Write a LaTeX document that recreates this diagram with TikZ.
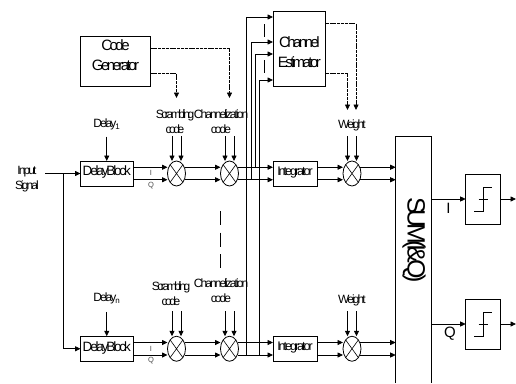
\documentclass[tikz,border=0pt]{standalone}
\usepackage{fontspec}
\setmainfont{Liberation Sans}
\newfontfamily\tightfont[LetterSpace=-16]{Liberation Sans}
\newfontfamily\boxfont[LetterSpace=-17]{Liberation Sans}
\newfontfamily\scrfont[LetterSpace=-20]{Liberation Sans}
\newfontfamily\sumfont[LetterSpace=-17]{Liberation Sans}
\newcommand{\lowstrut}[1]{\rule[-#1]{0pt}{#1}}
\usetikzlibrary{shapes,arrows.meta,positioning}

\begin{document}
\begin{tikzpicture}[
    x=1pt, y=-1pt,
    line width=0.8pt,
    every node/.style={inner sep=0pt, outer sep=0pt, align=center},
    block/.style={draw, rectangle, font=\boxfont\fontsize{15}{20}\selectfont},
    delaybox/.style={block, minimum width=52.5pt, minimum height=25pt, font=\tightfont\fontsize{13.5}{16}\selectfont},
    intbox/.style={block, minimum width=44pt, minimum height=25pt, font=\tightfont\fontsize{12.5}{14}\selectfont},
    mixer/.style={draw, ellipse, minimum width=18pt, minimum height=25pt,
        path picture={\draw[line width=0.6pt] (path picture bounding box.south west) -- (path picture bounding box.north east)
            (path picture bounding box.north west) -- (path picture bounding box.south east);}},
    slicer/.style={draw, rectangle, minimum width=35pt, minimum height=50pt,
        path picture={\draw[line width=0.7pt] ([shift={(-9pt,-12pt)}]path picture bounding box.center) -- ++(9pt,0pt) -- ++(0pt,24pt) -- ++(9pt,0pt)
            ([xshift=-4.5pt]path picture bounding box.center) -- ++(9pt,0pt);}},
    lab/.style={font=\tightfont\fontsize{12}{15}\selectfont},
    scrlab/.style={font=\scrfont\fontsize{12}{15}\selectfont},
    tiny/.style={font=\fontsize{7.5}{9}\selectfont, text=black!70},
    big/.style={font=\fontsize{15}{15}\selectfont},
    arrow/.style={-{Triangle[length=5.5pt,width=5pt]}},
    ctrl/.style={arrow, dash pattern=on 3pt off 0.8pt},
    gap/.style={line width=0.7pt}
]
\useasboundingbox (0,0) rectangle (516,383);

% first finger
\node[delaybox] (delay1) at (106.75,173.5) {DelayBlock\lowstrut{5pt}};
\node[mixer, right=34.5pt of delay1] (scr1) {};
\node[mixer, right=35pt of scr1] (chan1) {};
\node[intbox, right=34.5pt of chan1] (int1) {Integrator\lowstrut{5pt}};
\node[mixer, right=26pt of int1] (wgt1) {};

% last finger
\node[delaybox, below=150.25pt of delay1] (delay2) {DelayBlock\lowstrut{5pt}};
\node[mixer, right=34.5pt of delay2] (scr2) {};
\node[mixer, right=35pt of scr2] (chan2) {};
\node[intbox, right=34.5pt of chan2] (int2) {Integrator\lowstrut{5pt}};
\node[mixer, right=26pt of int2] (wgt2) {};

\node[block, above=75pt of delay1, xshift=8.75pt, minimum width=70pt, minimum height=50pt] (codegen) {Code\\Generator\lowstrut{11pt}};
\node[block, above=75pt of int1, xshift=4.35pt, minimum width=52.7pt, minimum height=75pt] (est) {\rule{0pt}{19pt}Channel\\Estimator};

\node[minimum width=35.3pt, minimum height=247pt] (sum) at (413.35,259.5) {};
\node[rotate=-90, font=\sumfont\fontsize{25}{25}\selectfont] (sumtext) at (414,240) {SUM(I\&Q)};
\node[slicer] (dec1) at (483.2,199) {};
\node[slicer] (dec2) at (483.2,324) {};

% labels
\node[lab] (input) at (27,179.5) {Input\\Signal};
\node[lab, above=31pt of delay1] (dly1) {Delay\kern-1pt\textsubscript{1}};
\node[lab, above=32pt of delay2] (dly2) {Delay\kern-1pt\textsubscript{n}};
\node[scrlab] (scrl1) at (175,121.5) {Scrambling\\code};
\node[lab] (chanl1) at (221,121.5) {Channelization\\code};
\node[lab] (wgtl1) at (352,125.5) {Weight};
\node[scrlab] (scrl2) at (171,293.5) {Scrambling\\code};
\node[lab] (chanl2) at (221,290.5) {Channelization\\code};
\node[lab] (wgtl2) at (352,300.5) {Weight};
\node[tiny] (i1) at (151,173) {I};
\node[tiny] (q1) at (151,186) {Q};
\node[tiny] (i2) at (151,349) {I};
\node[tiny] (q2) at (151,361) {Q};
\node[big] (ilab) at (448.5,208) {I};
\node[big] (qlab) at (450,334) {Q};

% helper points
\coordinate[left=35.5pt of delay1] (infeed);
\coordinate[left=17.5pt of delay1] (split);
\coordinate[above=24.5pt of delay1] (dtop1);
\coordinate[above=24.5pt of delay2] (dtop2);
\coordinate[above=25pt of scr1] (stop1);
\coordinate[above=25pt of chan1] (ctop1);
\coordinate[above=25pt of wgt1] (wtop1);
\coordinate[above=25pt of scr2] (stop2);
\coordinate[above=25pt of chan2] (ctop2);
\coordinate[above=25pt of wgt2] (wtop2);
\coordinate (stail) at (176.5,98);
\coordinate (ctail) at (229.5,98);
\coordinate (wtaila) at (347.5,110);
\coordinate (wtailb) at (356,110);
\coordinate (outa) at (516,199);
\coordinate (outb) at (516,324);
\coordinate (busa) at (264,24);
\coordinate (busb) at (264,73);
\coordinate (fingera) at (220.7,211);
\coordinate (fingerb) at (220.7,268);

% input
\draw[arrow] (infeed) -- (delay1.west);
\draw[arrow] (split) |- (delay2.west);
\draw[arrow] (dtop1) -- (delay1.north);
\draw[arrow] (dtop2) -- (delay2.north);

% I and Q, first finger
\draw[arrow] ([yshift=6.25pt]delay1.east) -- ([yshift=6.25pt]scr1.west);
\draw[arrow] ([yshift=-6.25pt]delay1.east) -- ([yshift=-6.25pt]scr1.west);
\draw[arrow] ([xshift=-1pt,yshift=6.25pt]scr1.east) -- ([yshift=6.25pt]chan1.west);
\draw[arrow] ([xshift=-1pt,yshift=-6.25pt]scr1.east) -- ([yshift=-6.25pt]chan1.west);
\draw[arrow] ([xshift=-1pt,yshift=6.25pt]chan1.east) -- ([yshift=6.25pt]int1.west);
\draw[arrow] ([xshift=-1pt,yshift=-6.25pt]chan1.east) -- ([yshift=-6.25pt]int1.west);
\draw[arrow] ([yshift=6.25pt]int1.east) -- ([yshift=6.25pt]wgt1.west);
\draw[arrow] ([yshift=-6.25pt]int1.east) -- ([yshift=-6.25pt]wgt1.west);
\draw[arrow] ([xshift=-1pt,yshift=6.25pt]wgt1.east) -- ([yshift=92.25pt]sum.west);
\draw[arrow] ([xshift=-1pt,yshift=-6.25pt]wgt1.east) -- ([yshift=79.75pt]sum.west);

% I and Q, last finger
\draw[arrow] ([yshift=6.25pt]delay2.east) -- ([yshift=6.25pt]scr2.west);
\draw[arrow] ([yshift=-6.25pt]delay2.east) -- ([yshift=-6.25pt]scr2.west);
\draw[arrow] ([xshift=-1pt,yshift=6.25pt]scr2.east) -- ([yshift=6.25pt]chan2.west);
\draw[arrow] ([xshift=-1pt,yshift=-6.25pt]scr2.east) -- ([yshift=-6.25pt]chan2.west);
\draw[arrow] ([xshift=-1pt,yshift=6.25pt]chan2.east) -- ([yshift=6.25pt]int2.west);
\draw[arrow] ([xshift=-1pt,yshift=-6.25pt]chan2.east) -- ([yshift=-6.25pt]int2.west);
\draw[arrow] ([yshift=6.25pt]int2.east) -- ([yshift=6.25pt]wgt2.west);
\draw[arrow] ([yshift=-6.25pt]int2.east) -- ([yshift=-6.25pt]wgt2.west);
\draw[arrow] ([xshift=-1pt,yshift=6.25pt]wgt2.east) -- ([yshift=-83pt]sum.west);
\draw[arrow] ([xshift=-1pt,yshift=-6.25pt]wgt2.east) -- ([yshift=-95.5pt]sum.west);

% code inputs
\draw[arrow] ([xshift=-4.5pt]stop1) -- ([xshift=-4.5pt]scr1.north);
\draw[arrow] ([xshift=4.5pt]stop1) -- ([xshift=4.5pt]scr1.north);
\draw[arrow] ([xshift=-4.5pt]ctop1) -- ([xshift=-4.5pt]chan1.north);
\draw[arrow] ([xshift=4.5pt]ctop1) -- ([xshift=4.5pt]chan1.north);
\draw[arrow] ([xshift=-4.5pt]wtop1) -- ([xshift=-4.5pt]wgt1.north);
\draw[arrow] ([xshift=4.5pt]wtop1) -- ([xshift=4.5pt]wgt1.north);
\draw[arrow] ([xshift=-4.5pt]stop2) -- ([xshift=-4.5pt]scr2.north);
\draw[arrow] ([xshift=4.5pt]stop2) -- ([xshift=4.5pt]scr2.north);
\draw[arrow] ([xshift=-4.5pt]ctop2) -- ([xshift=-4.5pt]chan2.north);
\draw[arrow] ([xshift=4.5pt]ctop2) -- ([xshift=4.5pt]chan2.north);
\draw[arrow] ([xshift=-4.5pt]wtop2) -- ([xshift=-4.5pt]wgt2.north);
\draw[arrow] ([xshift=4.5pt]wtop2) -- ([xshift=4.5pt]wgt2.north);

% control lines
\draw[ctrl] ([yshift=12.5pt]codegen.east) -| (ctail);
\draw[ctrl] ([yshift=-12pt]codegen.east) -| (stail);
\draw[ctrl] ([yshift=25pt]est.east) -| (wtailb);
\draw[ctrl] ([yshift=-24.5pt]est.east) -| (wtaila);

% buses to the estimator
\draw[arrow] ([xshift=-26.3pt,yshift=-6.25pt]int2.west) |- ([yshift=31.5pt]est.west);
\draw[arrow] ([xshift=-22pt,yshift=-6.25pt]int1.west) |- ([yshift=6.5pt]est.west);
\draw[arrow] ([xshift=-17.3pt,yshift=6.25pt]int1.west) |- ([yshift=-5.5pt]est.west);
\draw[arrow] ([xshift=-13.3pt,yshift=-6.25pt]int2.west) |- ([yshift=-31.5pt]est.west);
\draw[gap, dash pattern=on 13pt off 23pt] (busa) -- (busb);
\draw[gap, dash pattern=on 14pt off 7.5pt] (fingera) -- (fingerb);

% sum and decision
\draw (sum.south west) |- (sum.north east) -- (sum.south east);
\draw[arrow] ([yshift=60.5pt]sum.east) -- (dec1.west);
\draw[arrow] ([yshift=-64.5pt]sum.east) -- (dec2.west);
\draw[arrow] (dec1.east) -- (outa);
\draw[arrow] (dec2.east) -- (outb);

\end{tikzpicture}
\end{document}
